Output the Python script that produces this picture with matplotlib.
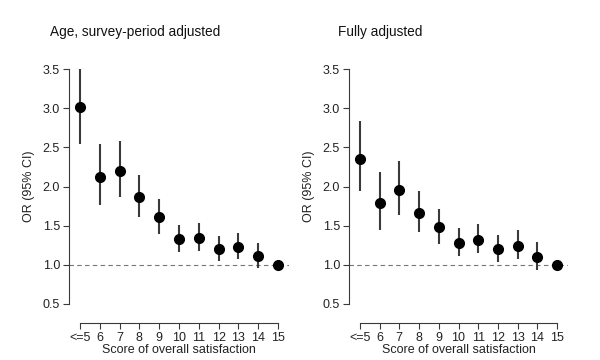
import matplotlib
matplotlib.use("Agg")
import matplotlib.pyplot as plt
import numpy as np

plt.rcParams['font.family'] = ['Liberation Sans', 'DejaVu Sans']

categories = ["<=5", "6", "7", "8", "9", "10", "11", "12", "13", "14", "15"]

# age, survey-period adjusted
or_age = [3.01, 2.12, 2.20, 1.86, 1.61, 1.33, 1.34, 1.20, 1.23, 1.11, 1.00]
lo_age = [2.54, 1.76, 1.87, 1.61, 1.40, 1.17, 1.18, 1.05, 1.07, 0.96, 1.00]
hi_age = [3.56, 2.54, 2.58, 2.15, 1.84, 1.51, 1.54, 1.37, 1.41, 1.28, 1.00]

# fully adjusted
or_full = [2.35, 1.79, 1.95, 1.66, 1.48, 1.28, 1.32, 1.20, 1.24, 1.10, 1.00]
lo_full = [1.94, 1.45, 1.63, 1.42, 1.27, 1.11, 1.15, 1.03, 1.07, 0.94, 1.00]
hi_full = [2.83, 2.19, 2.32, 1.94, 1.71, 1.47, 1.52, 1.38, 1.44, 1.29, 1.00]

yticks = [0.5, 1.0, 1.5, 2.0, 2.5, 3.0, 3.5]

fig = plt.figure(figsize=(6, 3.6), dpi=100)
ax_age = fig.add_axes([69 / 600, 1 - 304 / 360, 220 / 600, 235 / 360])
ax_full = fig.add_axes([349 / 600, 1 - 304 / 360, 219 / 600, 235 / 360])

line_col = "#3a3a3a"
xs = np.arange(1, len(categories) + 1)

for ax, est, lo, hi in [(ax_age, or_age, lo_age, hi_age),
                        (ax_full, or_full, lo_full, hi_full)]:
    ax.axhline(1.0, color="#777777", lw=0.8, ls=(0, (4, 3)), zorder=1)
    ax.vlines(xs, lo, hi, color=line_col, lw=1.5, zorder=2)
    ax.plot(xs, est, "o", color="black", ms=7, zorder=3)
    ax.set_xlim(0.45, len(categories) + 0.55)
    ax.set_ylim(0.5, 3.5)
    ax.set_yticks(yticks)
    ax.set_yticklabels([f"{v:.1f}" for v in yticks])
    ax.set_xticks(xs)
    ax.set_xticklabels(categories)
    for s in ["top", "right"]:
        ax.spines[s].set_visible(False)
    ax.spines["left"].set_color(line_col)
    ax.spines["bottom"].set_color(line_col)
    ax.spines["left"].set_linewidth(0.8)
    ax.spines["bottom"].set_linewidth(0.8)
    ax.spines["bottom"].set_position(("outward", 14))
    ax.spines["bottom"].set_bounds(1, len(categories))
    ax.spines["left"].set_bounds(0.5, 3.5)
    ax.tick_params(axis="both", labelsize=9, length=4, width=0.8,
                   color=line_col, labelcolor="#222222", pad=2.5)
    ax.set_ylabel("OR (95% CI)", fontsize=9, color="#222222", va="center")
    ax.set_xlabel("Score of overall satisfaction", fontsize=9,
                  color="#222222", va="center")
    ax.yaxis.set_label_coords(-40 / 220, 0.5)
    ax.xaxis.set_label_coords(0.5, -46 / 235)
    ax.patch.set_alpha(0)

fig.text(135 / 600, 1 - 32 / 360, "Age, survey-period adjusted",
         ha="center", va="center", fontsize=9.8, color="#111111")
fig.text(380 / 600, 1 - 32 / 360, "Fully adjusted",
         ha="center", va="center", fontsize=9.8, color="#111111")

fig.savefig("out.png", dpi=100)
